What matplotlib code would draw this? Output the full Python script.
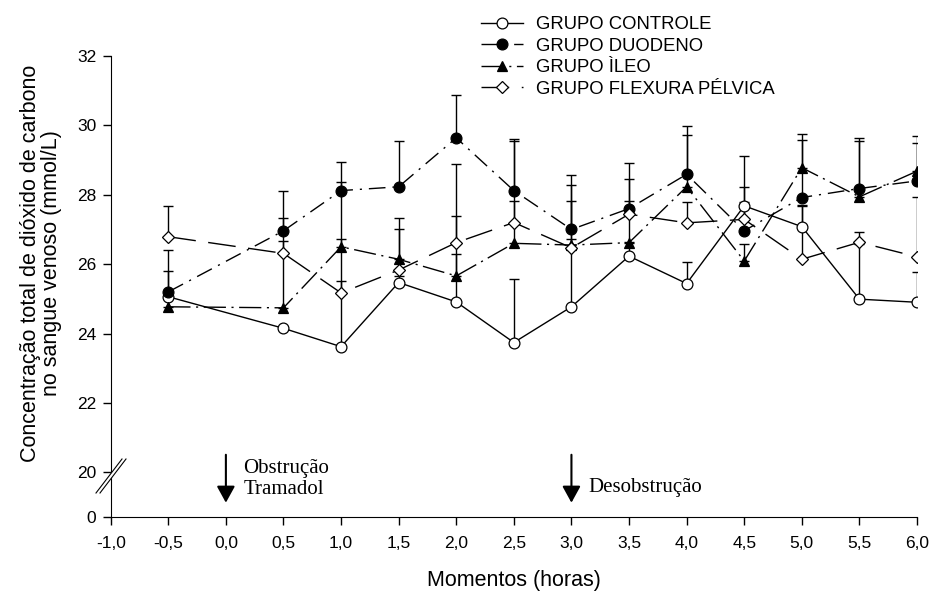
import numpy as np
import matplotlib
matplotlib.use('Agg')
import matplotlib.pyplot as plt
from matplotlib.lines import Line2D
from matplotlib.patches import Polygon

plt.rcParams['font.family'] = ['Liberation Sans', 'DejaVu Sans']

# momentos de coleta (horas)
momentos = [-0.5, 0.5, 1.0, 1.5, 2.0, 2.5, 3.0, 3.5, 4.0, 4.5, 5.0, 5.5, 6.0]

controle = [25.06, 24.15, 23.62, 25.47, 24.91, 23.74, 24.77, 26.23, 25.44, 27.68, 27.08, 24.99, 24.90]
controle_dp = [0.2, 0.0, 1.90, 0.2, 1.37, 1.82, 1.95, 0.4, 0.63, 1.44, 0.6, 1.6, 0.88]
duodeno = [25.20, 26.96, 28.12, 28.23, 29.64, 28.12, 27.00, 27.60, 28.59, 26.96, 27.92, 28.18, 28.40]
duodeno_dp = [1.2, 1.16, 0.81, 1.33, 1.23, 1.48, 1.57, 1.31, 1.40, 1.27, 1.66, 1.46, 1.08]
ileo = [24.77, 24.74, 26.50, 26.14, 25.66, 26.60, 26.55, 26.62, 28.23, 26.09, 28.78, 27.94, 28.68]
ileo_dp = [1.03, 1.92, 1.87, 1.18, 1.74, 1.23, 1.26, 1.21, 1.49, 0.5, 0.97, 1.61, 1.01]
flexura = [26.79, 26.31, 25.17, 25.83, 26.62, 27.20, 26.47, 27.44, 27.19, 27.29, 26.14, 26.63, 26.21]
flexura_dp = [0.89, 1.03, 1.54, 1.17, 2.26, 2.35, 1.82, 1.01, 0.6, 0.5, 1.56, 0.3, 1.73]

xticks = [-1.0, -0.5, 0.0, 0.5, 1.0, 1.5, 2.0, 2.5, 3.0, 3.5, 4.0, 4.5, 5.0, 5.5, 6.0]
xticklabels = ['-1,0', '-0,5', '0,0', '0,5', '1,0', '1,5', '2,0', '2,5', '3,0',
               '3,5', '4,0', '4,5', '5,0', '5,5', '6,0']
yticks = [0, 20, 22, 24, 26, 28, 30, 32]

# eixo y quebrado: 0-20 comprimido num trecho curto
P0 = 18.71


def fwd(y):
    y = np.asarray(y, dtype=float)
    return np.where(y >= 20, y, P0 + y * (20 - P0) / 20)


def inv(p):
    p = np.asarray(p, dtype=float)
    return np.where(p >= 20, p, (p - P0) * 20 / (20 - P0))


fig = plt.figure(figsize=(9.33, 5.94), dpi=100)
ax = fig.add_axes([110.7 / 933, 1 - 517 / 594, 806.3 / 933, 461 / 594])
ax.set_yscale('function', functions=(fwd, inv))
ax.set_ylim(0, 32)
ax.set_xlim(-1.0, 6.0)

series = [
    (controle, controle_dp, 'GRUPO CONTROLE', 'o', 'white', (None, None)),
    (duodeno, duodeno_dp, 'GRUPO DUODENO', 'o', 'black', (12, 5, 1.5, 5)),
    (ileo, ileo_dp, 'GRUPO ÌLEO', '^', 'black', (16, 4, 1.5, 4)),
    (flexura, flexura_dp, 'GRUPO FLEXURA PÉLVICA', 'D', 'white', (20, 9)),
]

for vals, dp, nome, mk, face, dash in series:
    ax.errorbar(momentos, vals, yerr=[np.zeros(len(dp)), dp], fmt='none',
                ecolor='black', elinewidth=1.0, capsize=3.6, capthick=1.0, zorder=2)
for vals, dp, nome, mk, face, dash in series:
    ms = 7.8 if mk != 'D' else 6.5
    ln, = ax.plot(momentos, vals, marker=mk, markersize=ms, markerfacecolor=face,
                  markeredgecolor='black', markeredgewidth=0.9, color='black',
                  lw=1.0, label=nome, zorder=3)
    if dash[0] is not None:
        ln.set_dashes(dash)

ax.spines['top'].set_visible(False)
ax.spines['right'].set_visible(False)
ax.set_xticks(xticks)
ax.set_xticklabels(xticklabels)
ax.set_yticks(yticks)
ax.set_yticklabels([str(t) for t in yticks])
ax.tick_params(direction='out', length=5.5, width=1, labelsize=12.5)
ax.tick_params(axis='x', pad=8)
ax.tick_params(axis='y', pad=5)

ax.set_xlabel('Momentos (horas)', fontsize=15.5, labelpad=14)
ax.set_ylabel('Concentração total de dióxido de carbono\nno sangue venoso (mmol/L)',
              fontsize=15.5, linespacing=1.0)
ax.yaxis.set_label_coords(-0.060, (517 - 263) / 461)

# marca de quebra do eixo y
def px(x, y):
    return ((x - 110.7) / 806.3, (517 - y) / 461)


ax.add_patch(Polygon([px(96, 493), px(122, 459), px(126, 459), px(100, 493)],
                     closed=True, facecolor='white', edgecolor='none',
                     transform=ax.transAxes, clip_on=False, zorder=5))
for off in (0, 4):
    a = px(96 + off, 493)
    b = px(122 + off, 459)
    ax.add_line(Line2D([a[0], b[0]], [a[1], b[1]], color='black', lw=0.8,
                       transform=ax.transAxes, clip_on=False, zorder=6))

# setas de intervenção
trans = ax.get_xaxis_transform()
for xa in (0.0, 3.0):
    ax.annotate('', xy=(xa, 0.031), xytext=(xa, 0.135), xycoords=trans,
                textcoords=trans,
                arrowprops=dict(arrowstyle='-|>,head_length=1.0,head_width=0.55',
                                color='black', lw=1.5, shrinkA=0, shrinkB=0))
ax.text(0.15, 0.083, 'Obstrução\nTramadol', transform=trans, fontsize=15,
        family='Liberation Serif', va='center', ha='left', linespacing=1.15)
ax.text(3.15, 0.064, 'Desobstrução', transform=trans, fontsize=15,
        family='Liberation Serif', va='center', ha='left')

fig.legend(loc='upper left', bbox_to_anchor=(481 / 933, 1 - 16 / 594),
           frameon=False, fontsize=13.3, handlelength=2.3, handletextpad=0.7,
           labelspacing=0.25, borderpad=0, borderaxespad=0)

fig.savefig('out.png', dpi=100)
